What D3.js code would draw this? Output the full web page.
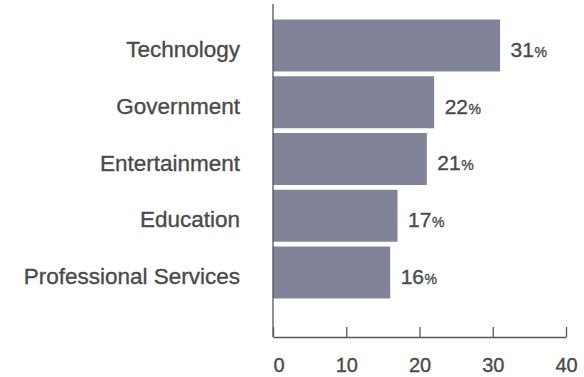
<!DOCTYPE html>
<html>
<head>
<meta charset="utf-8">
<script src="https://cdn.jsdelivr.net/npm/d3@7"></script>
<style>
  html, body { margin: 0; padding: 0; background: #fff; }
  svg { display: block; }
  text { font-family: "Helvetica Neue", Helvetica, "Liberation Sans", Arial, sans-serif; fill: #4a4a4a; }
  .label { stroke: #4a4a4a; stroke-width: 0.35px; }
</style>
</head>
<body>
<svg id="chart" width="584" height="377"></svg>
<script>
// Share of respondents by industry
const categories = ["Technology", "Government", "Entertainment", "Education", "Professional Services"];
const values = [31, 22, 21, 17, 16];
const tickValues = [0, 10, 20, 30, 40];

const svg = d3.select("#chart");

const x = d3.scaleLinear().domain([0, 40]).range([273, 566]);
const y = d3.scaleBand().domain(categories).range([16, 302])
  .paddingInner(0.084).paddingOuter(0.062);

const axisY = 337;
const axisColor = "#555";

// bars
svg.append("g").selectAll("rect")
  .data(values)
  .join("rect")
  .attr("x", x(0))
  .attr("y", (d, i) => y(categories[i]))
  .attr("width", d => x(d) - x(0))
  .attr("height", y.bandwidth())
  .attr("fill", "#818498");

// bottom axis, ticks pointing up
const xAxis = svg.append("g")
  .attr("transform", `translate(0,${axisY})`)
  .call(d3.axisBottom(x).tickValues(tickValues).tickSizeInner(-10).tickSizeOuter(0).tickPadding(20.5));
xAxis.attr("font-family", null).attr("font-size", null);
xAxis.select(".domain").attr("stroke", axisColor).attr("stroke-width", 1.3);
xAxis.selectAll(".tick line").attr("stroke", axisColor).attr("stroke-width", 1.3);
xAxis.selectAll(".tick text")
  .attr("class", "label")
  .attr("font-size", 20)
  .attr("text-anchor", d => d === 0 ? "start" : "middle");

// left axis line
svg.append("line")
  .attr("x1", x(0)).attr("x2", x(0))
  .attr("y1", 4).attr("y2", axisY)
  .attr("stroke", axisColor).attr("stroke-width", 1.3);

// category labels
const yAxis = svg.append("g")
  .attr("transform", `translate(${x(0)},0)`)
  .call(d3.axisLeft(y).tickSize(0).tickPadding(33));
yAxis.attr("font-family", null).attr("font-size", null);
yAxis.select(".domain").remove();
yAxis.selectAll(".tick text")
  .attr("class", "label")
  .attr("font-size", 22.5)
  .attr("dy", "0.52em");

// value labels
const labels = svg.append("g").selectAll("text")
  .data(values)
  .join("text")
  .attr("class", "label")
  .attr("x", d => x(d) + 10.5)
  .attr("y", (d, i) => y(categories[i]) + y.bandwidth() / 2 + 11.4)
  .attr("font-size", 21);
labels.append("tspan").text(d => d);
labels.append("tspan").attr("font-size", 14).attr("dx", 0.5).text("%");
</script>
</body>
</html>
